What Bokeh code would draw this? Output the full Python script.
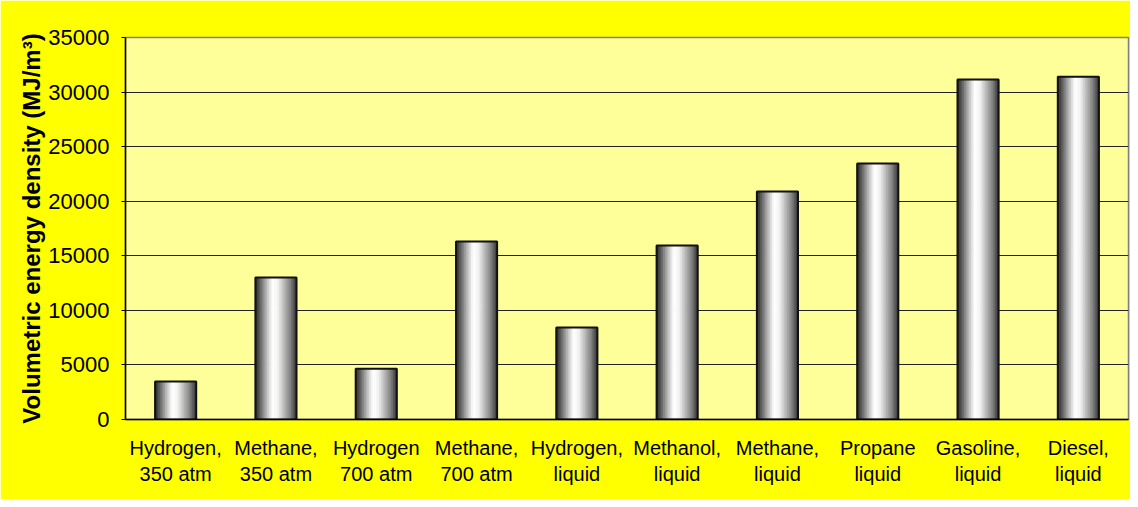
from bokeh.plotting import figure
from bokeh.models import FactorRange, Range1d, SingleIntervalTicker, ColumnDataSource
from bokeh.transform import dodge
from bokeh.embed import file_html
from bokeh.resources import INLINE

# ---- data ----
categories = [
    "Hydrogen,\n350 atm", "Methane,\n350 atm", "Hydrogen\n700 atm", "Methane,\n700 atm",
    "Hydrogen,\nliquid", "Methanol,\nliquid", "Methane,\nliquid", "Propane\nliquid",
    "Gasoline,\nliquid", "Diesel,\nliquid",
]
energy_density = [3480, 13000, 4650, 16300, 8430, 15950, 20900, 23450, 31150, 31400]

y_label = "Volumetric energy density (MJ/m\u00b3)"
y_max = 35000
y_step = 5000

# ---- style ----
BAR_W = 0.41
N_STRIPS = 24
stops = [(0.0, 0x22), (0.12, 0x60), (0.28, 0xb8), (0.42, 0xff), (0.55, 0xf4),
         (0.70, 0xbb), (0.86, 0x80), (1.0, 0x36)]

def shade(t):
    for (t0, c0), (t1, c1) in zip(stops[:-1], stops[1:]):
        if t0 <= t <= t1:
            c = int(round(c0 + (c1 - c0) * (t - t0) / (t1 - t0)))
            return "#%02x%02x%02x" % (c, c, c)
    return "#363636"

src = ColumnDataSource(dict(cat=categories, val=energy_density))

p = figure(
    x_range=FactorRange(factors=categories, range_padding=0),
    y_range=Range1d(0, y_max),
    width=1130, height=499,
    output_backend="svg", toolbar_location=None,
    min_border_left=125, min_border_right=2, min_border_top=37, min_border_bottom=80,
)
p.background_fill_color = "#FFFF99"
p.border_fill_color = "#FFFF00"
p.outline_line_color = "#808080"
p.outline_line_width = 1.5

# gradient strips
sw = BAR_W / N_STRIPS
for i in range(N_STRIPS):
    off = -BAR_W / 2 + sw * (i + 0.5)
    p.vbar(x=dodge("cat", off, range=p.x_range), top="val", bottom=0, width=sw * 1.4,
           source=src, fill_color=shade((i + 0.5) / N_STRIPS), line_color=None)
# outline
p.vbar(x="cat", top="val", bottom=0, width=BAR_W, source=src,
       fill_alpha=0, line_color="#111111", line_width=2)

# axes
p.yaxis.ticker = SingleIntervalTicker(interval=y_step)
p.yaxis.axis_label = y_label
p.yaxis.axis_label_text_font = "Liberation Sans"
p.yaxis.axis_label_text_font_style = "bold"
p.yaxis.axis_label_text_font_size = "24px"
p.yaxis.axis_label_text_color = "#000000"
p.yaxis.axis_label_standoff = 0
p.yaxis.major_label_text_font = "Liberation Sans"
p.yaxis.major_label_text_font_size = "22px"
p.yaxis.major_label_text_color = "#000000"
p.yaxis.major_label_standoff = 12
p.yaxis.major_tick_in = 0
p.yaxis.major_tick_out = 4
p.yaxis.minor_tick_line_color = None
p.yaxis.axis_line_color = "#000000"
p.yaxis.axis_line_width = 1.5

p.xaxis.major_label_text_font = "Liberation Sans"
p.xaxis.major_label_text_font_size = "20px"
p.xaxis.major_label_text_color = "#000000"
p.xaxis.major_label_standoff = 11
p.xaxis.major_tick_line_color = None
p.xaxis.axis_line_color = "#000000"
p.xaxis.axis_line_width = 1.5

p.xgrid.grid_line_color = None
p.ygrid.grid_line_color = "#222222"
p.ygrid.grid_line_width = 1.2

open("out.html", "w").write(file_html(p, INLINE))
